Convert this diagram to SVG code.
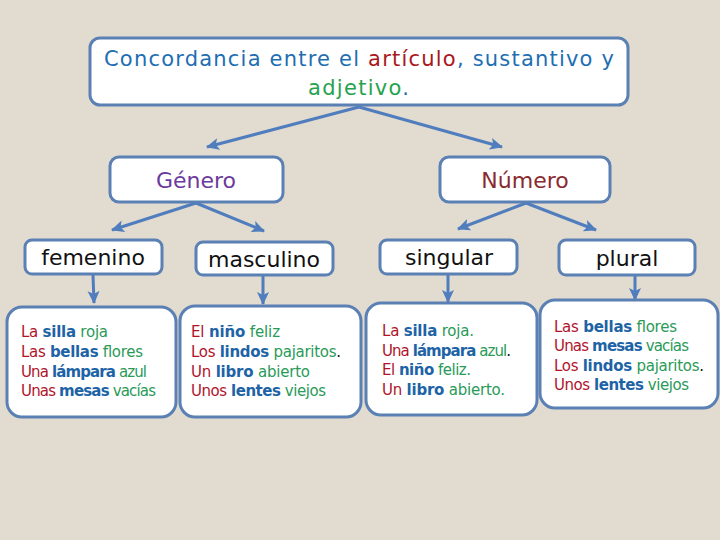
<svg xmlns="http://www.w3.org/2000/svg" width="720" height="540" viewBox="0 0 720 540">
<defs>
<marker id="ah" markerUnits="userSpaceOnUse" markerWidth="14" markerHeight="14" viewBox="0 0 14 14" refX="12" refY="7" orient="auto">
<path d="M0,1 L13,7 L0,13 L3,7 Z" fill="#4f7dbd"/>
</marker>
<style>
.box{fill:#fff;stroke:#5a80b4;stroke-width:3}
.con{stroke:#4f7dbd;stroke-width:3;fill:none;marker-end:url(#ah)}
.t{font-family:"DejaVu Sans",sans-serif}
.title{font-size:21px;fill:#1e6eb2}
.h{font-size:22px;text-anchor:middle}
.k{font-size:22px;text-anchor:middle;fill:#111}
.ex{font-size:15px}
.a{fill:#b0142a}
.n{fill:#1d63a6;font-weight:bold}
.j{fill:#2a9a58}
.p{fill:#111}
</style>
</defs>
<rect width="720" height="540" fill="#e2dbd0"/>
<g id="connectors">
<line class="con" x1="359" y1="107" x2="207" y2="147"/>
<line class="con" x1="359" y1="107" x2="502" y2="147"/>
<line class="con" x1="196" y1="203" x2="112" y2="230"/>
<line class="con" x1="196" y1="203" x2="264" y2="231"/>
<line class="con" x1="526" y1="203" x2="458" y2="229"/>
<line class="con" x1="526" y1="203" x2="596" y2="230"/>
<line class="con" x1="93" y1="275" x2="94" y2="303"/>
<line class="con" x1="263" y1="276" x2="263" y2="304"/>
<line class="con" x1="448" y1="275" x2="448" y2="302"/>
<line class="con" x1="635" y1="276" x2="635" y2="300"/>
</g>
<g id="title">
<rect class="box" x="90" y="38" width="538" height="67" rx="10"/>
<text class="t title" x="104" y="66" textLength="510" lengthAdjust="spacing">Concordancia entre el <tspan fill="#a8171c">artículo</tspan>, sustantivo y</text>
<text class="t title" x="308" y="95" textLength="101" lengthAdjust="spacing"><tspan fill="#26a24e">adjetivo</tspan>.</text>
</g>
<g id="genero">
<rect class="box" x="110" y="157" width="173" height="45" rx="9"/>
<text class="t h" x="196" y="188" fill="#6b3a9c">Género</text>
</g>
<g id="numero">
<rect class="box" x="440" y="157" width="170" height="45" rx="9"/>
<text class="t h" x="525" y="188" fill="#8a2a2e">Número</text>
</g>
<g id="femenino">
<rect class="box" x="25" y="240" width="137" height="34" rx="7"/>
<text class="t k" x="93" y="265">femenino</text>
</g>
<g id="masculino">
<rect class="box" x="196" y="242" width="137" height="33" rx="7"/>
<text class="t k" x="264" y="267">masculino</text>
</g>
<g id="singular">
<rect class="box" x="380" y="240" width="137" height="34" rx="7"/>
<text class="t k" x="449" y="265">singular</text>
</g>
<g id="plural">
<rect class="box" x="559" y="240" width="136" height="35" rx="7"/>
<text class="t k" x="627" y="266">plural</text>
</g>
<g id="ej-femenino">
<rect class="box" x="7" y="307" width="169" height="110" rx="15"/>
<text class="t ex" x="21" y="337" textLength="87"><tspan class="a">La </tspan><tspan class="n">silla</tspan><tspan class="j"> roja</tspan></text>
<text class="t ex" x="21" y="357" textLength="122"><tspan class="a">Las </tspan><tspan class="n">bellas</tspan><tspan class="j"> flores</tspan></text>
<text class="t ex" x="21" y="377" textLength="126"><tspan class="a">Una </tspan><tspan class="n">lámpara</tspan><tspan class="j"> azul</tspan></text>
<text class="t ex" x="21" y="396" textLength="135"><tspan class="a">Unas </tspan><tspan class="n">mesas</tspan><tspan class="j"> vacías</tspan></text>
</g>
<g id="ej-masculino">
<rect class="box" x="180" y="306" width="181" height="111" rx="15"/>
<text class="t ex" x="191" y="337" textLength="89"><tspan class="a">El </tspan><tspan class="n">niño</tspan><tspan class="j"> feliz</tspan></text>
<text class="t ex" x="191" y="357" textLength="150"><tspan class="a">Los </tspan><tspan class="n">lindos</tspan><tspan class="j"> pajaritos</tspan><tspan class="p">.</tspan></text>
<text class="t ex" x="191" y="377" textLength="119"><tspan class="a">Un </tspan><tspan class="n">libro</tspan><tspan class="j"> abierto</tspan></text>
<text class="t ex" x="191" y="396" textLength="135"><tspan class="a">Unos </tspan><tspan class="n">lentes</tspan><tspan class="j"> viejos</tspan></text>
</g>
<g id="ej-singular">
<rect class="box" x="366" y="303" width="171" height="112" rx="15"/>
<text class="t ex" x="382" y="336" textLength="92"><tspan class="a">La </tspan><tspan class="n">silla</tspan><tspan class="j"> roja.</tspan></text>
<text class="t ex" x="382" y="356" textLength="129"><tspan class="a">Una </tspan><tspan class="n">lámpara</tspan><tspan class="j"> azul</tspan><tspan class="p">.</tspan></text>
<text class="t ex" x="382" y="375" textLength="89"><tspan class="a">El </tspan><tspan class="n">niño</tspan><tspan class="j"> feliz.</tspan></text>
<text class="t ex" x="382" y="395" textLength="123"><tspan class="a">Un </tspan><tspan class="n">libro</tspan><tspan class="j"> abierto.</tspan></text>
</g>
<g id="ej-plural">
<rect class="box" x="540" y="300" width="178" height="108" rx="15"/>
<text class="t ex" x="554" y="332" textLength="123"><tspan class="a">Las </tspan><tspan class="n">bellas</tspan><tspan class="j"> flores</tspan></text>
<text class="t ex" x="554" y="351" textLength="135"><tspan class="a">Unas </tspan><tspan class="n">mesas</tspan><tspan class="j"> vacías</tspan></text>
<text class="t ex" x="554" y="371" textLength="150"><tspan class="a">Los </tspan><tspan class="n">lindos</tspan><tspan class="j"> pajaritos</tspan><tspan class="p">.</tspan></text>
<text class="t ex" x="554" y="390" textLength="135"><tspan class="a">Unos </tspan><tspan class="n">lentes</tspan><tspan class="j"> viejos</tspan></text>
</g>
</svg>
